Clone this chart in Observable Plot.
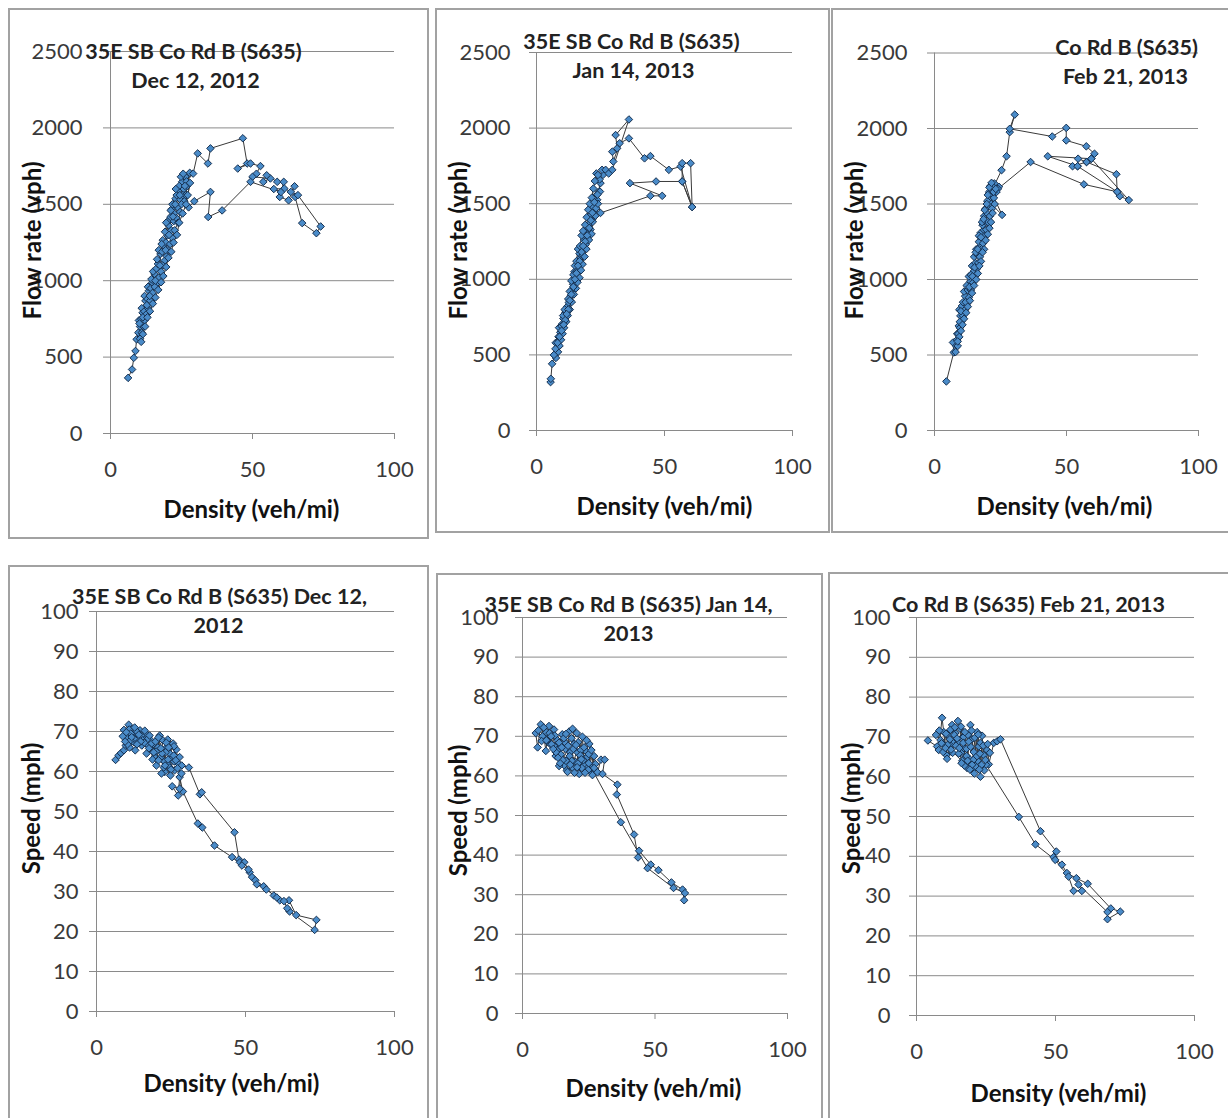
<!DOCTYPE html>
<html>
<head>
<meta charset="utf-8">
<script src="https://cdn.jsdelivr.net/npm/d3@7"></script>
<script src="https://cdn.jsdelivr.net/npm/@observablehq/plot@0.6"></script>
<style>
  html, body { margin: 0; padding: 0; background: #fff; }
  body { width: 1228px; height: 1118px; position: relative; overflow: hidden; font-family: Lato, sans-serif; }
  .box { position: absolute; box-sizing: border-box; border: 2px solid #a2a2a2; pointer-events: none; }
</style>
</head>
<body>
<script>
// ---------- Tick values and labels ----------
const densityTicks = [0, 50, 100];
const flowTicks = [0, 500, 1000, 1500, 2000, 2500];
const speedTicks = [0, 10, 20, 30, 40, 50, 60, 70, 80, 90, 100];
const flowTitles = [
  ["35E SB Co Rd B (S635)", "Dec 12, 2012"],
  ["35E SB Co Rd B (S635)", "Jan 14, 2013"],
  ["Co Rd B (S635)", "Feb 21, 2013"]
];
const speedTitles = [
  ["35E SB Co Rd B (S635) Dec 12,", "2012"],
  ["35E SB Co Rd B (S635) Jan 14,", "2013"],
  ["Co Rd B (S635) Feb 21, 2013"]
];
const xLabel = "Density (veh/mi)";
const flowLabel = "Flow rate (vph)";
const speedLabel = "Speed (mph)";

// ---------- Data: [density (veh/mi), flow (vph)] in time order ----------
const dec12Flow = [
  [6.2,364],[7.6,419],[8.2,495],[8.8,540],[9.2,616],[9.8,660],[10.4,700],[10.0,740],[10.8,748],[11.3,790],
  [11.0,820],[11.9,800],[12.3,868],[12.0,900],[13.0,880],[13.5,934],[13.2,960],[14.2,950],[14.7,989],[15.5,1044],
  [15.0,1060],[16.2,1080],[16.7,1110],[17.6,1175],[17.0,1200],[18.2,1190],[18.8,1230],[18.4,1265],[19.5,1250],[20.0,1296],
  [19.2,1320],[20.5,1362],[21.4,1330],[20.8,1400],[21.1,1417],[22.3,1390],[21.7,1471],[22.4,1440],[23.2,1410],[22.9,1537],
  [21.8,1500],[23.6,1480],[24.0,1592],[23.3,1560],[24.6,1530],[25.2,1647],[24.2,1620],[25.8,1600],[26.4,1680],[25.5,1560],
  [27.0,1620],[26.0,1520],[27.9,1706],[26.8,1650],[29.1,1701],
  [30.7,1833],[34.3,1767],[35.2,1866],[46.6,1932],[48.1,1767],[44.8,1734],[49.3,1767],[52.8,1750],[51.4,1700],[50.0,1680],
  [56.3,1669],[53.8,1647],[55.0,1690],[58.7,1647],[61.0,1647],[59.6,1548],[62.7,1526],[64.8,1618],[63.5,1581],[65.0,1548],
  [67.5,1377],[72.5,1311],[74.0,1355],[66.0,1560],[61.2,1603],[57.5,1600],[60.0,1580],[49.3,1647],[39.3,1460],[34.4,1417],
  [35.2,1581],[29.5,1520],[27.5,1480],
  [26.5,1560],[25.0,1500],[24.5,1450],[23.8,1380],[22.6,1330],[21.8,1280],[21.0,1240],[20.2,1200],[19.8,1160],[19.0,1130],
  [18.4,1100],[17.8,1060],[17.0,1020],[16.2,980],[15.6,960],[14.8,920],[14.0,870],[13.2,820],[12.6,780],[12.0,740],
  [11.6,700],[11.0,660],[10.4,620],
  [10.2,720],[11.4,760],[12.8,840],[13.8,900],[14.4,1010],[15.8,1000],[16.4,1140],[17.4,1100],[18.0,1240],[19.4,1200],
  [19.6,1380],[20.6,1300],[21.2,1460],[22.0,1420],[22.8,1500],[23.0,1600],[24.4,1560],[24.8,1680],[25.6,1700],[26.2,1620],
  [27.2,1560],[28.0,1640],[26.6,1500],[25.4,1440],[24.2,1380],[23.4,1300],[22.2,1250],[21.4,1190],[20.4,1150],[19.6,1090],
  [18.6,1030],[17.8,990],[16.8,940],[15.8,890],[14.9,850],[13.9,800],[13.0,760],[12.2,700],[11.4,650],[10.8,600]
];
const jan14Flow = [
  [5.5,320],[5.6,342],[6.1,441],[7.1,496],[8.1,550],[7.5,580],[8.7,594],[9.3,649],[8.8,680],[10.0,704],
  [10.5,740],[11.3,781],[12.0,820],[12.6,846],[13.3,890],[13.8,930],[14.3,967],[15.2,1022],[14.8,1050],[16.0,1060],
  [16.5,1088],[17.2,1143],[16.8,1170],[18.0,1160],[18.5,1198],[19.2,1230],[18.6,1260],[19.8,1263],[20.4,1300],[19.5,1330],
  [21.1,1329],[20.8,1370],[21.7,1395],[21.0,1420],[22.6,1450],[22.0,1480],[23.3,1470],[23.7,1526],[23.0,1550],[24.4,1581],
  [25.0,1636],[24.6,1660],[26.0,1691],[25.6,1724],[27.0,1724],[28.2,1700],[29.6,1724],
  [36.1,2057],[30.9,1954],[31.5,1866],[29.6,1844],[30.0,1779],[32.5,1900],[36.1,1932],[42.2,1800],[44.5,1815],
  [51.7,1724],[56.3,1746],[60.8,1478],[60.2,1768],[56.9,1768],[56.9,1647],[60.8,1478],[56.9,1647],[46.7,1647],[36.5,1636],
  [49.1,1552],[44.5,1552],[25.0,1439],
  [24.0,1500],[23.0,1420],[22.0,1380],[21.5,1300],[20.5,1260],[19.5,1200],[18.8,1150],[18.0,1100],[17.4,1060],[16.8,1010],
  [16.0,980],[15.4,940],[14.6,900],[13.8,850],[13.0,800],[12.2,760],[11.6,720],[10.8,680],[10.2,640],[9.6,600],
  [9.0,560],[8.4,520],[7.6,480],
  [8.6,620],[9.8,690],[10.4,760],[11.0,800],[12.4,870],[13.0,920],[13.6,990],[14.4,1030],[15.0,1090],[15.6,1120],
  [16.2,1200],[17.0,1220],[17.6,1290],[18.2,1320],[19.0,1360],[19.6,1410],[20.2,1460],[20.8,1500],[21.6,1540],[22.2,1600],
  [22.8,1650],[23.4,1700],[24.0,1690],[24.8,1580],[23.8,1560],[22.6,1510],[21.8,1440],[21.2,1390],[20.6,1340],[19.8,1290],
  [19.0,1250],[18.2,1220],[17.6,1180],[16.8,1120],[16.2,1090],[15.6,1040],[15.0,1000],[14.4,950],[13.6,900],[13.0,860],
  [12.4,800],[11.8,770],[11.2,730],[10.6,700],[9.8,660],[9.0,620],[8.2,580],[7.4,540],[6.8,500]
];
const feb21Flow = [
  [4.5,325],[7.3,517],[7.0,583],[8.2,560],[8.0,520],[9.2,693],[8.6,640],[9.8,759],[9.4,800],[10.4,825],
  [11.0,780],[11.6,890],[11.2,920],[12.6,930],[13.6,989],[13.0,1020],[14.9,1055],[14.2,1090],[15.5,1110],[15.0,1150],
  [16.2,1165],[15.8,1200],[17.4,1220],[16.8,1250],[18.0,1274],[17.5,1310],[18.7,1329],[18.2,1360],[19.3,1384],[18.8,1420],
  [19.9,1439],[19.4,1470],[20.6,1493],[20.0,1520],[21.2,1548],[20.7,1580],[21.8,1592],[21.2,1620],[22.7,1636],[24.4,1614],
  [22.0,1560],[25.6,1428],[21.5,1500],[22.3,1610],
  [25.4,1724],[27.3,1816],[28.5,1976],[30.4,2092],[28.5,1998],[44.6,1947],[49.9,2004],[49.9,1921],[57.5,1882],[60.6,1833],
  [59.4,1800],[57.6,1778],[54.4,1800],[54.2,1750],[52.3,1750],[57.6,1778],[68.9,1697],[69.2,1581],[70.2,1552],[73.6,1526],
  [59.4,1800],[42.9,1816],[54.2,1750],[69.2,1581],[56.6,1630],[36.4,1778],[24.0,1600],
  [23.5,1580],[22.5,1540],[21.8,1470],[21.0,1420],[20.3,1380],[19.6,1330],[19.0,1290],[18.4,1240],[17.8,1200],[17.2,1150],
  [16.6,1110],[16.0,1070],[15.3,1020],[14.6,980],[13.8,930],[13.0,880],[12.3,840],[11.6,800],[10.8,760],[10.2,720],
  [9.6,680],[9.0,640],[8.5,600],
  [8.8,560],[9.6,720],[10.0,790],[10.8,850],[11.8,850],[12.2,960],[13.2,950],[13.8,1030],[14.4,1020],[15.2,1080],
  [15.6,1180],[16.4,1200],[16.8,1290],[17.6,1280],[18.0,1380],[18.6,1400],[19.0,1460],[19.8,1500],[20.2,1560],[20.8,1610],
  [21.6,1640],[22.4,1580],[23.2,1600],[22.8,1500],[22.0,1440],[21.4,1380],[20.8,1340],[20.2,1300],[19.4,1260],[18.8,1200],
  [18.2,1180],[17.6,1120],[17.0,1090],[16.4,1040],[15.8,1000],[15.0,960],[14.2,910],[13.4,860],[12.6,820],[12.0,780],
  [11.2,740],[10.6,700],[10.0,660],[9.4,620],[8.8,590]
];

// ---------- Data: [density (veh/mi), speed (mph)] in time order ----------
const dec12Speed = [
  [6.4,62.9],[7.4,64.0],[8.2,64.6],[9.2,65.3],[9.8,66.5],[10.4,68.5],[9.2,70.4],[10.8,71.7],[11.9,70.6],[11.1,66.0],
  [12.4,67.4],[13.0,69.4],[13.0,65.3],[14.6,70.3],[14.0,68.0],[15.7,68.7],[15.2,66.5],[16.5,69.5],[17.4,66.5],[16.8,64.5],
  [18.5,65.3],[18.0,68.0],[19.6,63.6],[19.0,66.8],[20.1,61.5],[21.2,69.0],[20.6,66.0],[22.3,67.8],[21.5,63.5],[23.5,66.0],
  [22.8,62.5],[24.6,64.5],[23.9,68.0],[25.7,67.0],[24.0,61.8],[26.8,65.5],[25.2,63.2],[27.9,63.6],[27.4,62.0],[26.2,60.3],
  [24.6,61.0],[22.9,59.9],[21.8,59.5],[23.2,64.8],[26.0,66.3],[28.6,61.5],[31.0,61.0],
  [34.7,54.3],[35.3,54.8],[46.3,44.8],[47.8,38.0],[48.1,37.3],[49.6,37.3],[51.4,34.8],[52.2,33.6],[53.3,32.8],
  [56.1,31.3],[59.5,29.0],[61.5,27.8],[64.6,27.8],[67.0,24.1],[73.8,22.9],[73.2,20.4],[64.8,25.0],[64.0,25.8],[62.9,27.6],
  [60.5,28.5],[57.0,30.5],[53.8,31.8],[51.0,35.5],[48.8,36.5],[45.5,38.6],[39.6,41.5],[35.5,46.0],[34.0,47.0],[29.0,55.0],
  [27.9,58.6],[27.4,54.0],[25.4,56.3],[27.9,55.7],[28.5,59.5],
  [26.0,62.5],[24.0,63.0],[22.0,64.5],[20.0,65.0],[18.5,67.0],[17.0,68.0],[15.0,69.0],[13.5,70.0],[12.0,69.0],[11.0,70.5],
  [11.5,69.5],[12.8,71.0],[14.2,69.2],[15.5,67.8],[16.2,70.2],[17.8,69.0],[18.8,63.0],[19.8,67.5],[20.8,68.5],[21.6,65.8],
  [22.6,61.0],[23.4,67.2],[24.2,66.0],[25.0,60.5],[25.9,64.0],[26.6,62.8],[27.2,60.8],[24.8,59.0],[23.0,61.5],[20.8,62.8],
  [19.2,64.8],[17.6,65.8],[16.0,67.2],[14.8,67.5],[13.6,66.8],[12.6,68.2],[11.4,67.8],[10.4,66.8],[9.6,67.5],[8.8,68.8],
  [10.0,69.8],[11.8,68.6]
];
const jan14Speed = [
  [5.0,70.8],[5.7,67.2],[6.9,73.0],[8.2,69.5],[8.8,66.3],[10.0,72.6],[9.4,68.6],[11.3,70.3],[11.9,71.7],[13.2,69.0],
  [12.0,67.5],[14.5,65.4],[15.7,62.7],[16.7,61.4],[17.6,71.2],[18.9,71.9],[19.5,68.1],[20.8,65.9],[21.4,60.5],[22.6,69.9],
  [23.3,62.7],[23.9,66.3],[25.2,68.1],[25.8,60.9],[27.0,65.0],[28.3,60.9],[29.6,64.1],[31.0,64.1],[30.2,60.5],
  [35.8,57.8],[35.6,55.3],[42.1,45.2],[43.6,39.4],[44.0,41.1],[48.4,37.6],[51.3,36.2],[56.2,33.1],[60.4,31.3],[61.0,28.6],
  [61.3,30.4],[57.0,31.7],[47.2,36.7],[37.1,48.3],[26.0,62.0],
  [24.0,64.5],[22.0,66.5],[20.0,63.5],[18.0,66.0],[16.0,68.5],[15.0,70.5],[14.0,67.0],[12.5,65.0],[10.5,68.0],[9.0,71.0],
  [7.5,70.0],[17.0,64.0],[19.0,62.0],[21.0,68.5],[23.0,64.0],[25.0,65.5],[27.5,63.0],[18.5,69.5],[16.2,66.8],[13.8,62.5],
  [20.5,70.8],[24.5,62.0],
  [6.0,71.5],[7.2,68.8],[8.0,72.2],[9.0,69.0],[10.2,70.8],[11.0,68.0],[12.2,70.2],[13.0,66.5],[13.8,68.4],[14.8,67.2],
  [15.6,69.5],[16.4,70.6],[17.2,67.6],[17.8,65.0],[18.6,63.8],[19.2,66.8],[20.2,67.8],[21.0,63.2],[21.8,65.2],[22.4,62.0],
  [23.2,67.2],[24.2,69.0],[25.0,63.2],[26.0,66.5],[27.0,62.0],[26.4,60.2],[24.8,61.5],[23.6,60.8],[22.2,64.2],[20.6,62.2],
  [19.6,60.8],[18.0,62.8],[17.0,61.0],[16.4,63.8],[15.2,64.0],[14.2,63.2],[13.4,64.6],[12.6,66.0],[11.6,66.8],[10.8,70.0]
];
const feb21Speed = [
  [4.1,69.1],[7.4,67.6],[8.0,66.7],[9.2,74.8],[9.8,71.2],[10.8,65.4],[11.6,70.3],[12.8,73.0],[13.2,68.5],[14.9,74.0],
  [15.6,72.1],[16.4,69.8],[17.0,67.1],[17.6,64.9],[18.2,62.2],[19.4,73.0],[20.0,69.4],[20.6,66.2],[21.2,63.6],[21.8,71.2],
  [22.4,67.6],[23.0,60.0],[23.6,70.3],[24.2,65.4],[25.4,66.7],[26.0,63.1],[27.8,68.5],[29.0,68.9],[30.2,69.4],
  [44.6,46.3],[50.3,41.2],[49.3,39.8],[52.3,37.9],[54.1,35.8],[57.5,34.5],[61.6,33.1],[69.9,26.9],[73.3,26.1],[68.7,24.2],
  [68.7,26.0],[58.3,32.9],[59.5,31.3],[56.5,31.3],[54.7,34.9],[49.9,39.1],[42.8,43.0],[36.8,49.9],[25.0,63.0],
  [22.0,64.0],[20.5,62.0],[19.0,64.5],[18.0,67.0],[17.0,70.0],[16.0,66.0],[15.0,68.5],[14.0,71.0],[13.0,66.0],[12.0,68.0],
  [11.0,64.5],[10.0,68.0],[19.5,67.5],[21.5,65.0],[23.0,68.5],[18.5,70.5],[16.5,64.0],[20.8,60.8],
  [7.0,70.5],[8.6,69.2],[9.6,66.2],[10.6,70.8],[11.2,68.0],[12.2,71.8],[12.4,66.8],[13.6,70.5],[14.2,67.8],[15.2,65.8],
  [16.0,72.6],[16.8,68.5],[17.4,71.2],[18.0,65.2],[18.8,68.8],[19.8,71.6],[20.4,64.2],[21.0,69.8],[21.6,62.4],[22.2,70.6],
  [22.8,65.8],[23.4,63.0],[24.0,67.8],[24.8,64.2],[25.6,68.2],[26.4,66.0],[24.4,61.6],[22.6,61.8],[20.0,63.0],[19.2,61.8],
  [18.4,64.0],[17.2,62.8],[16.2,63.4],[15.4,67.2],[14.6,69.6],[13.8,72.4],[12.0,69.4],[10.4,67.2],[9.0,68.4],[8.2,71.6]
];

// ---------- Panel layout (page pixels) ----------
const layout = [
  {box:[8,8,429,539],     x:[110,394], y:[433,51],   yPad:21, ylab:[33,240],  xlab:[251,510],  title:[[193,52],[195,81]]},
  {box:[435,8,830,533],   x:[536,792], y:[430,52],   yPad:19, ylab:[459,240], xlab:[664,507],  title:[[631,42],[633,71]]},
  {box:[831,8,1240,533],  x:[934,1198],y:[430,52.5], yPad:20, ylab:[855,240], xlab:[1064,507], title:[[1126,48],[1125,77]]},
  {box:[8,565,429,1130],  x:[96,394],  y:[1011,611], yPad:11, ylab:[32,808],  xlab:[231,1084], title:[[219,597],[218,626]]},
  {box:[436,573,823,1130],x:[522,787], y:[1013,617], yPad:17, ylab:[459,810], xlab:[653,1089], title:[[628,605],[628,634]]},
  {box:[828,572,1240,1130],x:[916,1194],y:[1015,617],yPad:19, ylab:[852,808], xlab:[1058,1094],title:[[1028,605]]}
];

const panels = [
  {data: dec12Flow,  ticks: flowTicks,  domain: [0, 2500], ylabel: flowLabel,  title: flowTitles[0]},
  {data: jan14Flow,  ticks: flowTicks,  domain: [0, 2500], ylabel: flowLabel,  title: flowTitles[1]},
  {data: feb21Flow,  ticks: flowTicks,  domain: [0, 2500], ylabel: flowLabel,  title: flowTitles[2]},
  {data: dec12Speed, ticks: speedTicks, domain: [0, 100],  ylabel: speedLabel, title: speedTitles[0]},
  {data: jan14Speed, ticks: speedTicks, domain: [0, 100],  ylabel: speedLabel, title: speedTitles[1]},
  {data: feb21Speed, ticks: speedTicks, domain: [0, 100],  ylabel: speedLabel, title: speedTitles[2]}
];

const GRID = "#8a8a8a";
const TICKTXT = "#3a3a3a";
const FONT = "Lato, 'Open Sans', sans-serif";
const plain = d3.format("d");

panels.forEach((p, i) => {
  const g = layout[i];
  const [L, T, R, B] = g.box;
  const W = R - L, H = B - T;
  const at = (px, py) => ({frameAnchor: "top-left", dx: px - g.x[0], dy: py - g.y[1]});
  const marks = [
    Plot.gridY(p.ticks, {stroke: GRID, strokeOpacity: 1, strokeWidth: 1}),
    Plot.ruleX([0], {stroke: GRID, strokeWidth: 1}),
    Plot.axisY(p.ticks, {tickSize: 7, tickPadding: g.yPad, stroke: GRID, fill: TICKTXT, label: null, fontSize: 22, tickFormat: plain}),
    Plot.axisX(densityTicks, {tickSize: 6, tickPadding: 22, stroke: GRID, fill: TICKTXT, label: null, fontSize: 22, tickFormat: plain}),
    Plot.line(p.data, {x: d => d[0], y: d => d[1], stroke: "#3a3a3a", strokeWidth: 1}),
    Plot.dot(p.data, {x: d => d[0], y: d => d[1], symbol: "diamond2", r: 3.4, fill: "#4a8bc8", stroke: "#163050", strokeWidth: 1}),
    Plot.text([p.ylabel], {...at(g.ylab[0], g.ylab[1]), rotate: -90, textAnchor: "middle", lineAnchor: "middle", fontWeight: "bold", fontSize: 24, fill: "#111"}),
    Plot.text([xLabel], {...at(g.xlab[0], g.xlab[1]), textAnchor: "middle", lineAnchor: "middle", fontWeight: "bold", fontSize: 24, fill: "#111"}),
    ...p.title.map((t, j) => Plot.text([t], {...at(g.title[j][0], g.title[j][1]), textAnchor: "middle", lineAnchor: "middle", fontWeight: "bold", fontSize: 21.5, fill: "#222"}))
  ];
  const svg = Plot.plot({
    width: W, height: H,
    marginLeft: g.x[0] - L, marginRight: R - g.x[1],
    marginTop: g.y[1] - T, marginBottom: B - g.y[0],
    x: {domain: [0, 100]},
    y: {domain: p.domain},
    style: {fontFamily: FONT, fontSize: "22px", color: "#333", background: "transparent"},
    marks
  });
  svg.style.position = "absolute";
  svg.style.left = L + "px";
  svg.style.top = T + "px";
  svg.style.maxWidth = "none";
  document.body.append(svg);
  const box = document.createElement("div");
  box.className = "box";
  Object.assign(box.style, {left: L + "px", top: T + "px", width: W + "px", height: H + "px"});
  document.body.append(box);
});
</script>
</body>
</html>
